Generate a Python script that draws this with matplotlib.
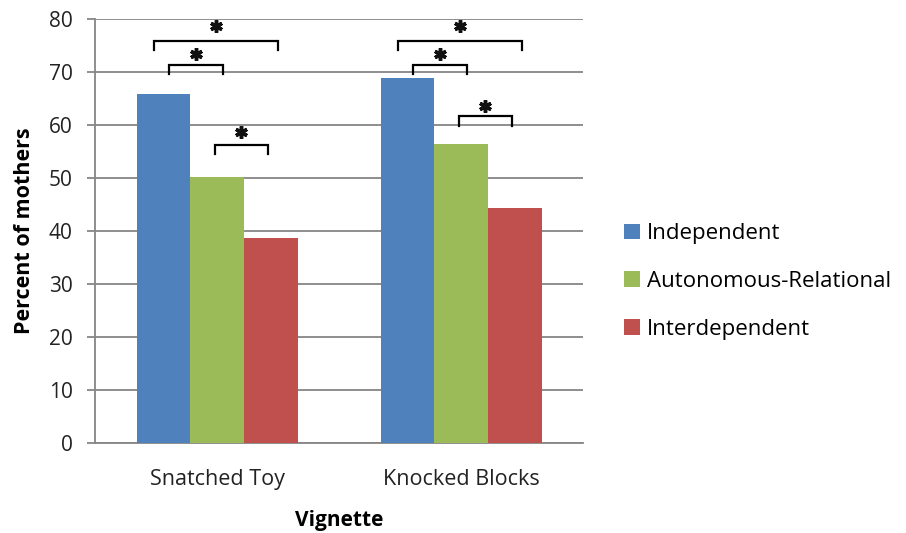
import numpy as np
import matplotlib
matplotlib.use('Agg')
import matplotlib.pyplot as plt

plt.rcParams['font.family'] = ['Open Sans', 'DejaVu Sans']

# Data
vignettes = ['Snatched Toy', 'Knocked Blocks']
series = ['Independent', 'Autonomous-Relational', 'Interdependent']
independent = [65.8, 68.8]
autonomous = [50.2, 56.4]
interdependent = [38.7, 44.3]
colors = ['#4F81BD', '#9BBB59', '#C0504D']

# significance brackets: (vignette, series a, series b, bracket height, star height)
brackets = [
    (0, 0, 2, 75.8, 78.7),
    (0, 0, 1, 71.4, 73.3),
    (0, 1, 2, 56.2, 58.6),
    (1, 0, 2, 75.8, 78.7),
    (1, 0, 1, 71.4, 73.3),
    (1, 1, 2, 61.6, 63.6),
]
# small horizontal nudges of the bracket ends (as drawn by hand)
nudges = [(-0.04, 0.03), (0.025, 0.025), (-0.01, -0.01),
          (-0.04, 0.03), (0.025, 0.025), (-0.01, -0.01)]

fig = plt.figure(figsize=(9.06, 5.33), dpi=100)
ax = fig.add_axes([0.1049, 0.1689, 0.5386, 0.7955])

x = np.arange(len(vignettes))
width = 0.22
values = [independent, autonomous, interdependent]
for i, (name, vals) in enumerate(zip(series, values)):
    ax.bar(x + (i - 1) * width, vals, width, color=colors[i], label=name, zorder=3)

# brackets with stars
for (v, a, b, h, s), (da, db) in zip(brackets, nudges):
    xa = x[v] + (a - 1) * width + da
    xb = x[v] + (b - 1) * width + db
    ax.plot([xa, xa, xb, xb], [h - 1.7, h, h, h - 1.7], color='black', lw=1.6,
            zorder=4, solid_joinstyle='miter', clip_on=False)
    ax.plot([(xa + xb) / 2], [s], marker=(6, 2, 0), markersize=9, mew=2.5,
            color='#111111', zorder=4, clip_on=False)

ax.set_xlim(-0.5, 1.5)
ax.set_ylim(0, 80)
ax.set_yticks(np.arange(0, 81, 10))
ax.set_xticks(x)
ax.set_xticklabels(vignettes)
ax.yaxis.grid(True, color='#868686', lw=1.3, zorder=0)
for sp in ['top', 'right']:
    ax.spines[sp].set_visible(False)
ax.spines['left'].set_color('#868686')
ax.spines['bottom'].set_color('#868686')
ax.spines['left'].set_linewidth(1.3)
ax.spines['bottom'].set_linewidth(1.3)
ax.tick_params(axis='y', length=6, width=1.3, color='#868686', labelsize=15, pad=10,
               labelcolor='#222222')
ax.tick_params(axis='x', length=0, labelsize=15.5, pad=19, labelcolor='#222222')
ax.set_ylabel('Percent of mothers', fontsize=15.5, fontweight='bold', labelpad=10)
ax.set_xlabel('Vignette', fontsize=15, fontweight='bold')
ax.xaxis.set_label_coords(0.5, -0.158)

fig.legend(loc='center left', bbox_to_anchor=(0.667, 0.472), frameon=False,
           fontsize=16, labelspacing=1.2, handlelength=0.7, handleheight=0.7,
           handletextpad=0.3)

fig.savefig('out.png', dpi=100)
